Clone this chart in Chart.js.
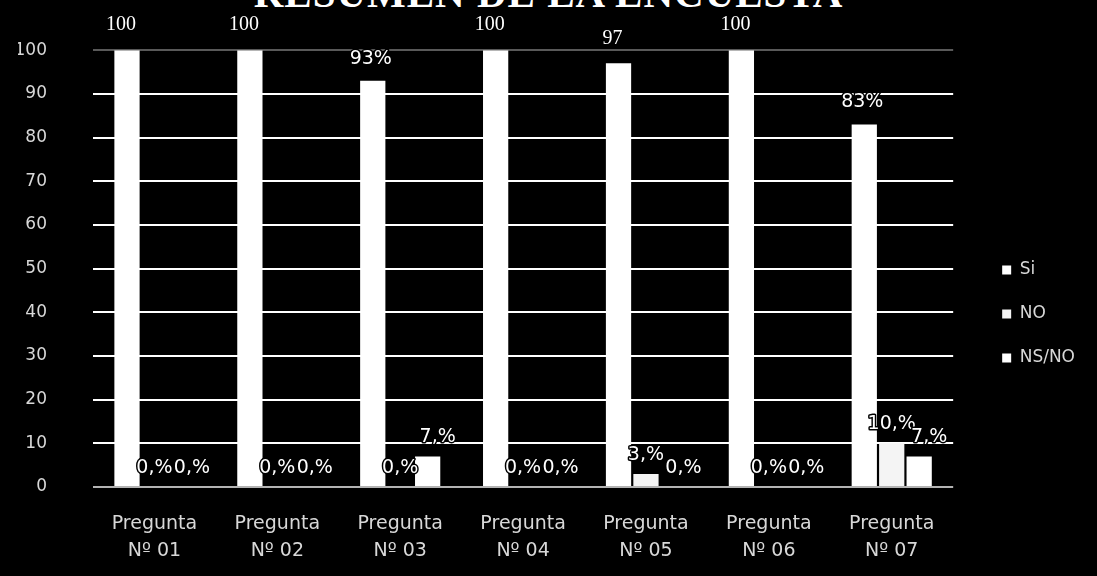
<!DOCTYPE html>
<html>
<head>
<meta charset="utf-8">
<script src="https://cdn.jsdelivr.net/npm/chart.js@4.4.1/dist/chart.umd.min.js"></script>
<style>
  html, body { margin: 0; padding: 0; background: #000; overflow: hidden; }
  #wrap { position: relative; width: 1097px; height: 576px; }
  #title {
    position: absolute; left: 0; width: 1097px; top: -31px;
    text-align: center; color: #fff;
    font: bold 41px "Liberation Serif", "DejaVu Serif", serif;
    letter-spacing: 1px; white-space: nowrap;
  }
  canvas { position: absolute; left: 0; top: 0; }
</style>
</head>
<body>
<div id="wrap">
  <div id="title">RESUMEN DE LA ENCUESTA</div>
  <canvas id="c" width="1097" height="576"></canvas>
</div>
<script>
// Survey summary: share of answers per question
const categories = [
  ['Pregunta', 'Nº 01'], ['Pregunta', 'Nº 02'], ['Pregunta', 'Nº 03'],
  ['Pregunta', 'Nº 04'], ['Pregunta', 'Nº 05'], ['Pregunta', 'Nº 06'],
  ['Pregunta', 'Nº 07']
];
const seriesNames = ['Si', 'NO', 'NS/NO'];
const siValues   = [100, 100, 93, 100, 97, 100, 83];
const noValues   = [0, 0, 0, 0, 3, 0, 10];
const nsnoValues = [0, 0, 7, 0, 0, 0, 7];
const siLabels   = ['100', '100', '93%', '100', '97', '100', '83%'];
const noLabels   = ['0,%', '0,%', '0,%', '0,%', '3,%', '0,%', '10,%'];
const nsnoLabels = ['0,%', '0,%', '7,%', '0,%', '0,%', '0,%', '7,%'];
const yTicks = [0, 10, 20, 30, 40, 50, 60, 70, 80, 90, 100];

const textColor = '#d8d8d8';
const sansFont = '"DejaVu Sans", "Open Sans", sans-serif';

// Value labels above each bar
const barLabels = {
  id: 'barLabels',
  afterDatasetsDraw(chart) {
    const ctx = chart.ctx;
    ctx.save();
    ctx.textAlign = 'center';
    ctx.textBaseline = 'middle';
    const shift = [-6, 0, 10];
    chart.data.datasets.forEach((ds, di) => {
      const meta = chart.getDatasetMeta(di);
      meta.data.forEach((bar, i) => {
        const txt = ds.valueLabels[i];
        const serif = txt.indexOf('%') < 0;
        ctx.font = serif ? '20px "Liberation Serif", serif' : '19px ' + sansFont;
        const x = bar.x + (serif ? shift[di] : (di === 0 ? -2 : shift[di]));
        const y = bar.y - (di === 0 ? (serif ? 25 : 22) : 19);
        ctx.lineJoin = 'round';
        ctx.lineWidth = 3;
        ctx.strokeStyle = '#000';
        ctx.strokeText(txt, x, y);
        ctx.fillStyle = '#fff';
        ctx.fillText(txt, x, y);
      });
    });
    ctx.restore();
  }
};

// Leave a wider gap between the plot and the legend column
const legendGap = {
  id: 'legendGap',
  beforeLayout(chart) {
    const lg = chart.legend;
    if (lg && !lg._gapWrapped) {
      const fit = lg.fit.bind(lg);
      lg.fit = function () { fit(); this.width += 34; };
      lg._gapWrapped = true;
    }
  },
  afterLayout(chart) {
    const lg = chart.legend;
    if (lg) { lg.left += 22; lg.right += 22; lg.top += 6; lg.bottom += 6; }
  }
};

new Chart(document.getElementById('c'), {
  type: 'bar',
  data: {
    labels: categories,
    datasets: [
      { label: seriesNames[0], data: siValues, valueLabels: siLabels, backgroundColor: '#ffffff' },
      { label: seriesNames[1], data: noValues, valueLabels: noLabels, backgroundColor: '#f4f4f4' },
      { label: seriesNames[2], data: nsnoValues, valueLabels: nsnoLabels, backgroundColor: '#ffffff' }
    ]
  },
  options: {
    responsive: false,
    animation: false,
    devicePixelRatio: 1,
    layout: { padding: { top: 40, left: 18, right: 0, bottom: 0 } },
    datasets: { bar: { categoryPercentage: 0.67, barPercentage: 0.92 } },
    plugins: {
      title: { display: false },
      tooltip: { enabled: false },
      legend: {
        position: 'right',
        align: 'center',
        labels: {
          color: textColor,
          font: { family: sansFont, size: 17 },
          boxWidth: 9, boxHeight: 9,
          padding: 27
        }
      }
    },
    scales: {
      x: {
        grid: { display: false },
        border: { display: false },
        ticks: {
          color: textColor,
          font: { family: sansFont, size: 19, lineHeight: 1.4 },
          padding: 16,
          maxRotation: 0, autoSkip: false
        },
        afterFit(s) { s.height = 89; }
      },
      y: {
        min: 0, max: 100,
        afterBuildTicks(s) { s.ticks = yTicks.map(v => ({ value: v })); },
        grid: {
          drawTicks: true,
          tickLength: 6,
          tickColor: 'rgba(0,0,0,0)',
          lineWidth: 2,
          color: c => c.tick.value === 100 ? 'rgba(255,255,255,0.35)'
                    : c.tick.value === 0 ? 'rgba(255,255,255,0.7)' : '#ffffff'
        },
        border: { display: false },
        ticks: {
          color: textColor,
          font: { family: sansFont, size: 17 },
          padding: 40
        },
        afterFit(s) { s.width = 75; }
      }
    }
  },
  plugins: [barLabels, legendGap]
});
</script>
</body>
</html>
